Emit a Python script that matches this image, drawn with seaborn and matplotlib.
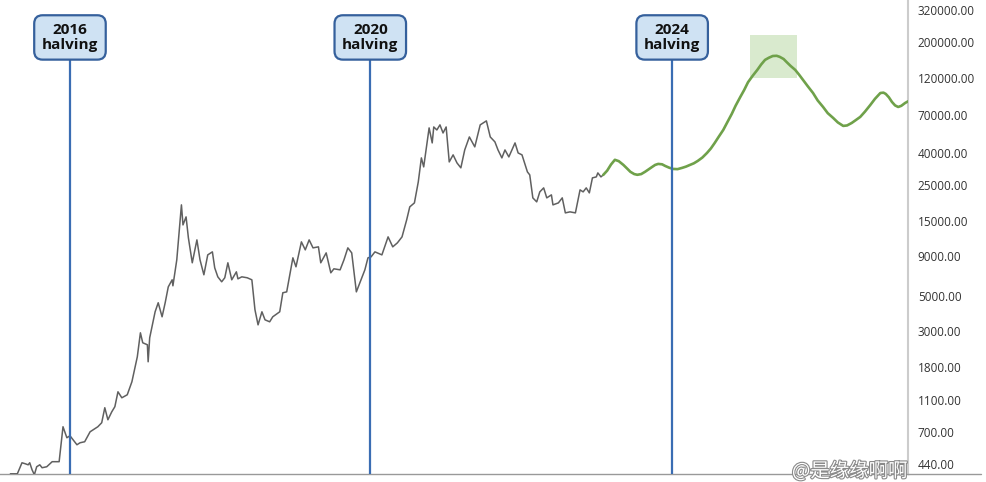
import matplotlib
matplotlib.use("Agg")
import matplotlib.pyplot as plt
import matplotlib.transforms as mtransforms
import matplotlib.patheffects as pe
from matplotlib.ticker import FixedLocator, NullLocator, FuncFormatter
import seaborn as sns

sns.set_style("white")
plt.rcParams['font.family'] = ['Open Sans', 'Noto Sans CJK SC', 'DejaVu Sans']

# BTC price history (decimal year, USD)
gray_years = [2015.75, 2015.84, 2015.90, 2015.94, 2015.98, 2016.00, 2016.03, 2016.06, 2016.09, 2016.13,
              2016.16, 2016.22, 2016.29, 2016.35, 2016.38, 2016.40, 2016.43, 2016.48, 2016.52, 2016.56,
              2016.61, 2016.65, 2016.71, 2016.78, 2016.82, 2016.88, 2016.93, 2016.97, 2017.01, 2017.06,
              2017.10, 2017.14, 2017.19, 2017.26, 2017.32, 2017.39, 2017.43, 2017.46, 2017.52, 2017.53,
              2017.55, 2017.62, 2017.66, 2017.71, 2017.75, 2017.79, 2017.84, 2017.85, 2017.90, 2017.96,
              2017.98, 2018.02, 2018.05, 2018.10, 2018.14, 2018.16, 2018.20, 2018.25, 2018.30, 2018.36,
              2018.39, 2018.43, 2018.48, 2018.52, 2018.56, 2018.61, 2018.67, 2018.69, 2018.74, 2018.81,
              2018.87, 2018.91, 2018.95, 2019.00, 2019.04, 2019.10, 2019.14, 2019.23, 2019.27, 2019.32,
              2019.40, 2019.44, 2019.51, 2019.56, 2019.61, 2019.66, 2019.73, 2019.76, 2019.83, 2019.89,
              2019.93, 2020.01, 2020.06, 2020.11, 2020.16, 2020.22, 2020.27, 2020.33, 2020.37, 2020.41,
              2020.46, 2020.55, 2020.63, 2020.69, 2020.75, 2020.81, 2020.87, 2020.91, 2020.97, 2021.02,
              2021.06, 2021.09, 2021.16, 2021.20, 2021.22, 2021.26, 2021.30, 2021.34, 2021.38, 2021.42,
              2021.47, 2021.52, 2021.57, 2021.62, 2021.68, 2021.75, 2021.82, 2021.90, 2021.95, 2022.01,
              2022.05, 2022.10, 2022.14, 2022.19, 2022.27, 2022.31, 2022.36, 2022.43, 2022.46, 2022.50,
              2022.55, 2022.59, 2022.64, 2022.68, 2022.74, 2022.76, 2022.83, 2022.88, 2022.92, 2022.98,
              2023.05, 2023.11, 2023.15, 2023.19, 2023.23, 2023.27, 2023.32, 2023.34, 2023.38, 2023.41]
gray_prices = [379, 379, 445, 439, 432, 445, 402, 374, 420, 432,
               414, 420, 452, 452, 452, 554, 751, 640, 659, 622,
               578, 595, 604, 698, 719, 751, 796, 990, 831, 933,
               1005, 1248, 1144, 1195, 1443, 2075, 2940, 2544, 2471, 1930,
               2735, 3990, 4550, 3710, 4550, 5730, 6350, 5820, 8490, 18860,
               14100, 15840, 11680, 8130, 10100, 11340, 8490, 6830, 9120, 9530,
               7560, 6630, 6170, 6540, 8130, 6350, 7130, 6440, 6630, 6540,
               6350, 4110, 3300, 3990, 3550, 3450, 3710, 3990, 5260, 5330,
               8740, 7670, 11020, 9810, 11340, 10100, 10250, 8130, 9390, 7030,
               7450, 7340, 8490, 10100, 9390, 5330, 6170, 7340, 8740, 8860,
               9530, 9120, 11850, 10250, 10860, 11850, 15170, 18320, 19410, 26330,
               37320, 32750, 57700, 46400, 58500, 56000, 60300, 53600, 58500, 35200,
               39000, 34700, 32300, 41900, 50600, 43800, 60300, 63900, 50600, 47100,
               41900, 37320, 41900, 37860, 46400, 40100, 39000, 30450, 29160, 20880,
               19700, 22780, 24140, 20880, 21810, 18860, 19410, 20880, 16790, 17040,
               16790, 23450, 22780, 24140, 22450, 27920, 28320, 30020, 28320, 29160]

# projected path
green_years = [2023.41, 2023.46, 2023.51, 2023.56, 2023.61, 2023.67, 2023.72, 2023.76, 2023.81, 2023.85,
               2023.90, 2023.95, 2024.00, 2024.04, 2024.08, 2024.12, 2024.17, 2024.21, 2024.26, 2024.31,
               2024.37, 2024.43, 2024.48, 2024.53, 2024.58, 2024.63, 2024.69, 2024.75, 2024.80, 2024.85,
               2024.90, 2024.96, 2025.01, 2025.07, 2025.12, 2025.18, 2025.23, 2025.28, 2025.34, 2025.40,
               2025.45, 2025.50, 2025.55, 2025.60, 2025.65, 2025.69, 2025.74, 2025.78, 2025.83, 2025.89,
               2025.94, 2025.99, 2026.05, 2026.12, 2026.18, 2026.25, 2026.31, 2026.38, 2026.44, 2026.51,
               2026.56, 2026.62, 2026.67, 2026.73, 2026.79, 2026.86, 2026.92, 2026.99, 2027.03, 2027.06,
               2027.10, 2027.14, 2027.18, 2027.22, 2027.26, 2027.31, 2027.35]
green_prices = [29160, 31000, 33900, 36300, 35600, 33700, 31900, 30500, 29500, 29200,
                29500, 30500, 31700, 32700, 33700, 34200, 34000, 33200, 32400, 31800,
                31700, 32300, 32900, 33700, 34500, 35700, 37500, 40100, 42800, 46400,
                50600, 56000, 62300, 70700, 79700, 90400, 100000, 112000, 123000, 134000,
                145000, 155000, 160000, 164000, 164500, 162000, 157000, 150000, 142000, 134000,
                125000, 116000, 106000, 95800, 86000, 78200, 71500, 66700, 62500, 59400,
                59800, 62000, 64500, 67700, 73000, 80500, 88000, 95800, 96300, 94500,
                90000, 84100, 80000, 78200, 79500, 82900, 85000]

# peak window highlight
peak_years = (2025.31, 2025.91)
peak_prices = (119000, 223000)

halving_years = [2016.52, 2020.40, 2024.30]
halving_labels = ['2016\nhalving', '2020\nhalving', '2024\nhalving']

y_ticks = [440, 700, 1100, 1800, 3000, 5000, 9000, 15000, 25000, 40000, 70000, 120000, 200000, 320000]

fig = plt.figure(figsize=(9.86, 4.82), dpi=100)
ax = fig.add_axes([0, 8 / 482, 908 / 986, 474 / 482])

ax.fill_between(peak_years, peak_prices[0], peak_prices[1], color='#d3e7c6', alpha=0.85, lw=0, zorder=1)

sns.lineplot(x=gray_years, y=gray_prices, ax=ax, color='#606060', linewidth=1.1,
             estimator=None, sort=False, zorder=3)
sns.lineplot(x=green_years, y=green_prices, ax=ax, color='#6fa14a', linewidth=1.9,
             estimator=None, sort=False, zorder=3, solid_joinstyle='round', solid_capstyle='round')

ax.set_yscale('log')
ax.set_ylim(378, 370000)
ax.set_xlim(2015.616, 2027.347)
ax.yaxis.set_major_locator(FixedLocator(y_ticks))
ax.yaxis.set_minor_locator(NullLocator())
ax.yaxis.set_major_formatter(FuncFormatter(lambda v, p: f'{v:.2f}'))
ax.yaxis.tick_right()
ax.tick_params(axis='y', length=0, pad=7, labelsize=8.5, labelcolor='#333333')
ax.set_xticks([])
ax.set_xlabel('')
ax.set_ylabel('')

for side in ['top', 'left']:
    ax.spines[side].set_visible(False)
ax.spines['right'].set_color('#cccccc')
ax.spines['right'].set_linewidth(1.5)
ax.spines['bottom'].set_color('#999999')
ax.spines['bottom'].set_linewidth(1.0)
ax.axhline(378, xmin=1, xmax=1.08, color='#999999', lw=1.0, clip_on=False)

trans = mtransforms.blended_transform_factory(ax.transData, ax.transAxes)
for yr, lab in zip(halving_years, halving_labels):
    ax.axvline(yr, ymin=0, ymax=0.875, color='#3a6db3', lw=1.6, zorder=4)
    ax.text(yr, 0.921, lab, transform=trans, ha='center', va='center',
            fontsize=11, fontweight='bold', color='#111111', linespacing=1.1, zorder=5,
            bbox=dict(boxstyle='round,pad=0.5,rounding_size=0.55', fc='#cfe2f3', ec='#35609c', lw=1.6))

fig.text(0.862, 0.022, '@是缘缘啊啊', ha='center', va='center', fontsize=14,
         family=['Noto Sans CJK SC', 'DejaVu Sans'], color='white',
         path_effects=[pe.withStroke(linewidth=1.6, foreground='#8a8a8a')])

fig.savefig('out.png', dpi=100)
